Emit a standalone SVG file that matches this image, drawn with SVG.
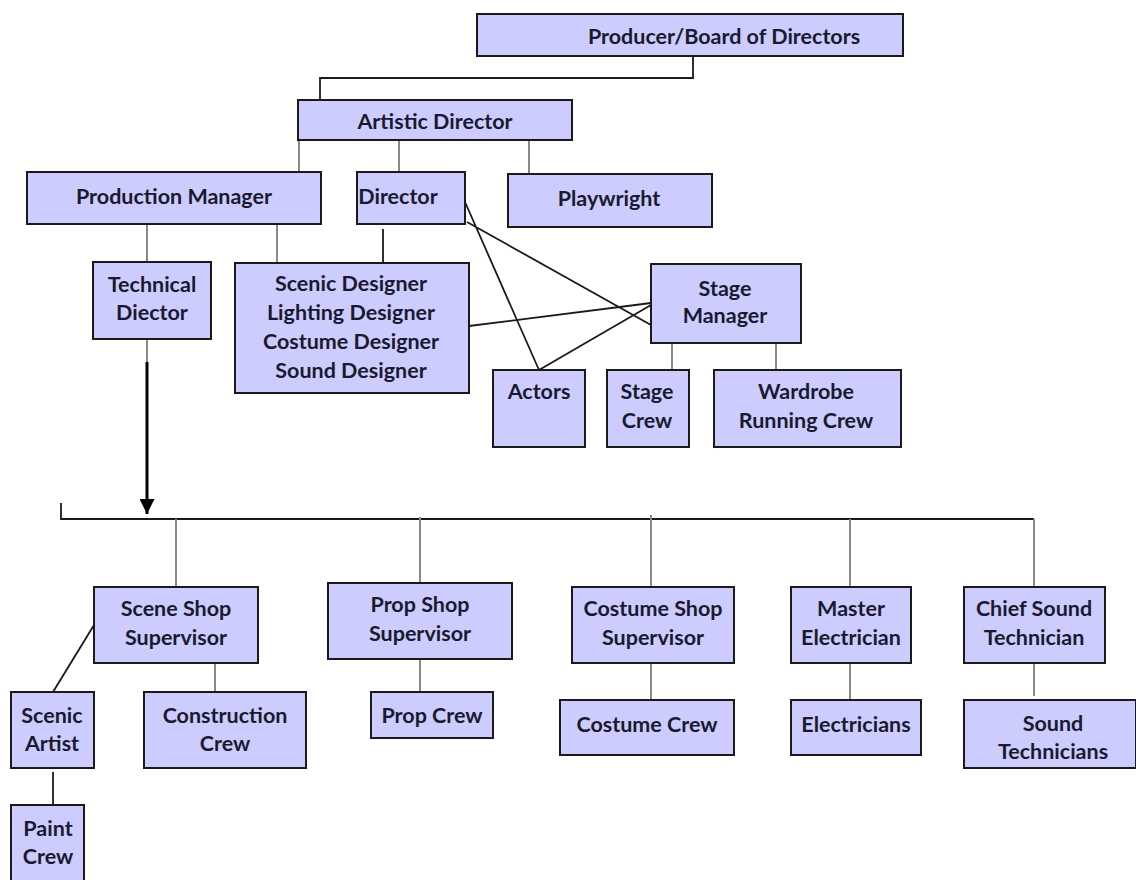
<svg xmlns="http://www.w3.org/2000/svg" width="1136" height="880" viewBox="0 0 1136 880">
<defs>
<style>
.n rect{fill:#ccccff;stroke:#1a1a1a;stroke-width:2}
.n text{font-family:Lato,"Open Sans","Liberation Sans",sans-serif;font-weight:bold;font-size:21.5px;fill:#1a1a2e;text-anchor:middle}
.k{stroke:#1a1a1a;stroke-width:1.8;fill:none}
.g{stroke:#8a8a8a;stroke-width:2;fill:none}
</style>
<marker id="ah" viewBox="0 0 10 10" refX="10" refY="5" markerWidth="5" markerHeight="5" markerUnits="strokeWidth" orient="auto">
<path d="M0,0 L10,5 L0,10 z" fill="#000"/>
</marker>
</defs>
<rect width="1136" height="880" fill="#fff"/>
<g id="connectors">
<path class="k" d="M693,56 V78 H320 V100"/>
<path class="g" d="M299,140 V172 M399,140 V172 M529,140 V174"/>
<path class="g" d="M147,224 V262 M277,224 V262"/>
<path class="k" d="M383,229 V263"/>
<path class="k" d="M465,202 L539,370 M467,222 L651,325 M469,326 L651,303 M539,370 L651,305"/>
<path class="g" d="M672,343 V370 M776,343 V370"/>
<path class="g" d="M147,339 V362"/>
<path d="M147,362 V514" stroke="#000" stroke-width="3" marker-end="url(#ah)"/>
<path class="k" d="M61,503 V519 H1034"/>
<path class="g" d="M176,519 V587 M420,517 V583 M651,515 V587 M850,519 V587 M1034,519 V587"/>
<path class="k" d="M94,625 L53,692"/>
<path class="g" d="M215,663 V692 M420,659 V692 M651,663 V700 M850,663 V700 M1034,663 V696"/>
<path class="k" d="M53,772 V804"/>
</g>
<g id="producer" class="n"><rect x="477" y="14" width="426" height="42"/><text x="724" y="44">Producer/Board of Directors</text></g>
<g id="artistic-director" class="n"><rect x="298" y="100" width="274" height="40"/><text x="435" y="129">Artistic Director</text></g>
<g id="production-manager" class="n"><rect x="27" y="172" width="294" height="52"/><text x="174" y="204">Production Manager</text></g>
<g id="director" class="n"><rect x="357" y="172" width="108" height="52"/><text x="398" y="204">Director</text></g>
<g id="playwright" class="n"><rect x="508" y="174" width="204" height="53"/><text x="609" y="206">Playwright</text></g>
<g id="technical-director" class="n"><rect x="93" y="262" width="118" height="77"/><text x="152" y="292">Technical</text><text x="152" y="320">Diector</text></g>
<g id="designers" class="n"><rect x="235" y="263" width="234" height="130"/><text x="351" y="291">Scenic Designer</text><text x="351" y="320">Lighting Designer</text><text x="351" y="349">Costume Designer</text><text x="351" y="378">Sound Designer</text></g>
<g id="stage-manager" class="n"><rect x="651" y="264" width="150" height="79"/><text x="725" y="296">Stage</text><text x="725" y="323">Manager</text></g>
<g id="actors" class="n"><rect x="493" y="370" width="92" height="77"/><text x="539" y="399">Actors</text></g>
<g id="stage-crew" class="n"><rect x="607" y="370" width="82" height="77"/><text x="647" y="399">Stage</text><text x="647" y="428">Crew</text></g>
<g id="wardrobe" class="n"><rect x="714" y="370" width="187" height="77"/><text x="806" y="399">Wardrobe</text><text x="806" y="428">Running Crew</text></g>
<g id="scene-shop" class="n"><rect x="94" y="587" width="164" height="76"/><text x="176" y="616">Scene Shop</text><text x="176" y="645">Supervisor</text></g>
<g id="prop-shop" class="n"><rect x="328" y="583" width="184" height="76"/><text x="420" y="612">Prop Shop</text><text x="420" y="641">Supervisor</text></g>
<g id="costume-shop" class="n"><rect x="572" y="587" width="162" height="76"/><text x="653" y="616">Costume Shop</text><text x="653" y="645">Supervisor</text></g>
<g id="master-electrician" class="n"><rect x="791" y="587" width="120" height="76"/><text x="851" y="616">Master</text><text x="851" y="645">Electrician</text></g>
<g id="chief-sound" class="n"><rect x="964" y="587" width="141" height="76"/><text x="1034" y="616">Chief Sound</text><text x="1034" y="645">Technician</text></g>
<g id="scenic-artist" class="n"><rect x="11" y="692" width="83" height="76"/><text x="52" y="723">Scenic</text><text x="52" y="751">Artist</text></g>
<g id="construction-crew" class="n"><rect x="144" y="692" width="162" height="76"/><text x="225" y="723">Construction</text><text x="225" y="751">Crew</text></g>
<g id="prop-crew" class="n"><rect x="371" y="692" width="122" height="46"/><text x="432" y="723">Prop Crew</text></g>
<g id="costume-crew" class="n"><rect x="560" y="700" width="174" height="55"/><text x="647" y="732">Costume Crew</text></g>
<g id="electricians" class="n"><rect x="791" y="700" width="130" height="55"/><text x="856" y="732">Electricians</text></g>
<g id="sound-technicians" class="n"><rect x="964" y="700" width="172" height="68"/><text x="1053" y="731">Sound</text><text x="1053" y="759">Technicians</text></g>
<g id="paint-crew" class="n"><rect x="11" y="805" width="73" height="76"/><text x="48" y="836">Paint</text><text x="48" y="864">Crew</text></g>
</svg>
